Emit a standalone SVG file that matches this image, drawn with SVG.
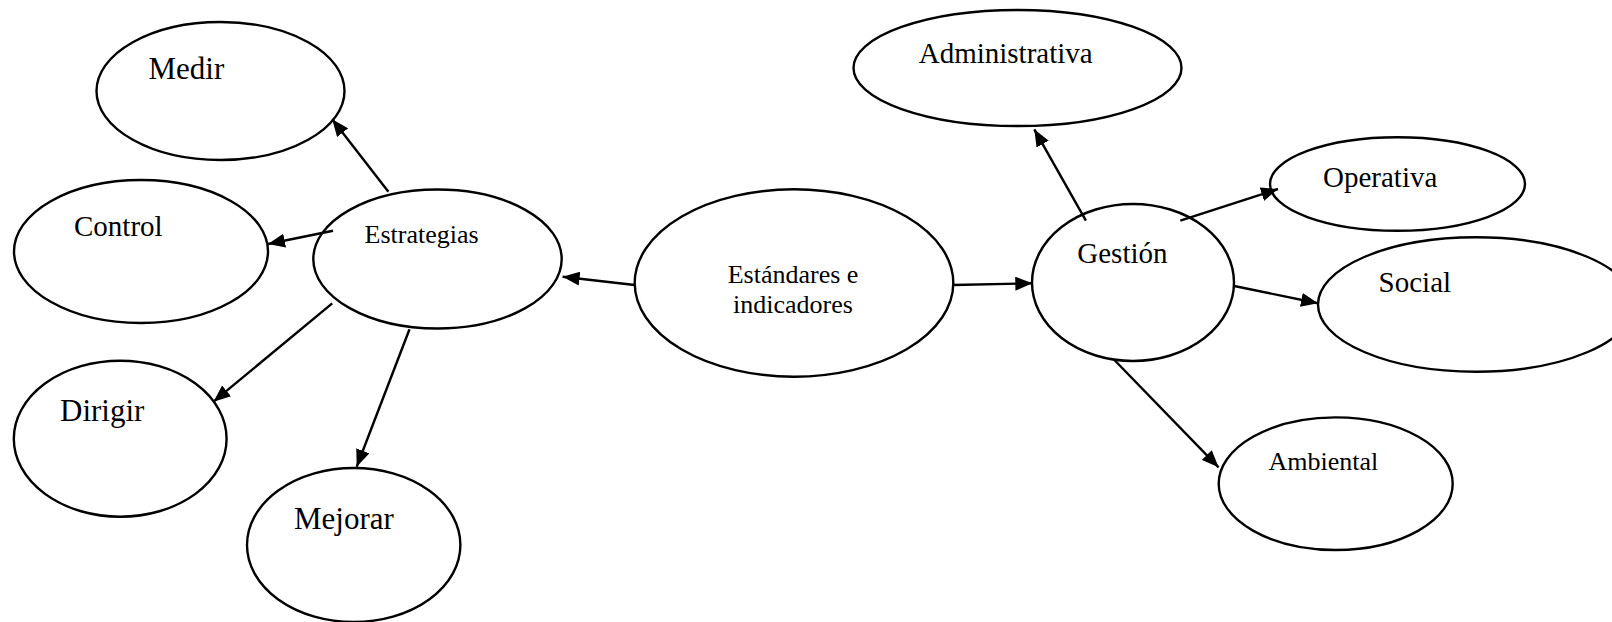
<svg xmlns="http://www.w3.org/2000/svg" width="1612" height="622" viewBox="0 0 1612 622">
  <style>
    .node ellipse { fill: #ffffff; stroke: #000000; stroke-width: 2.4; }
    .node text { font-family: "Liberation Serif", "Times New Roman", serif; fill: #000000; }
    .edge line { stroke: #000000; stroke-width: 2.4; marker-end: url(#arrow); }
  </style>
  <defs>
    <marker id="arrow" markerUnits="userSpaceOnUse" markerWidth="18" markerHeight="14" refX="17" refY="7" orient="auto">
      <path d="M0,0 L17,7 L0,14 Z" fill="#000000"/>
    </marker>
  </defs>
  <rect width="1612" height="622" fill="#ffffff"/>

  <!-- left branch -->
  <g id="medir" class="node">
    <ellipse cx="220.5" cy="91" rx="124" ry="69"/>
    <text x="148.5" y="79" font-size="31">Medir</text>
  </g>
  <g id="control" class="node">
    <ellipse cx="141" cy="251.5" rx="127" ry="71.5"/>
    <text x="74" y="235.5" font-size="29">Control</text>
  </g>
  <g id="estrategias" class="node">
    <ellipse cx="437.5" cy="259" rx="124.2" ry="69.5"/>
    <text x="364.5" y="242.5" font-size="26">Estrategias</text>
  </g>
  <g id="dirigir" class="node">
    <ellipse cx="120.2" cy="438.7" rx="106.4" ry="78"/>
    <text x="60" y="420.5" font-size="31">Dirigir</text>
  </g>
  <g id="mejorar" class="node">
    <ellipse cx="353.7" cy="545" rx="106.7" ry="77"/>
    <text x="294" y="528.5" font-size="31">Mejorar</text>
  </g>

  <!-- centre -->
  <g id="estandares" class="node">
    <ellipse cx="794" cy="283" rx="159.3" ry="93.7"/>
    <text font-size="26">
      <tspan x="727.7" y="283.3">Estándares e</tspan>
      <tspan x="733" y="313.3">indicadores</tspan>
    </text>
  </g>

  <!-- right branch -->
  <g id="gestion" class="node">
    <ellipse cx="1133" cy="282.5" rx="101" ry="78.5"/>
    <text x="1077.3" y="262.7" font-size="29">Gestión</text>
  </g>
  <g id="administrativa" class="node">
    <ellipse cx="1017.5" cy="68" rx="164" ry="58"/>
    <text x="918.7" y="62.7" font-size="29">Administrativa</text>
  </g>
  <g id="operativa" class="node">
    <ellipse cx="1397.5" cy="184" rx="127.5" ry="46.7"/>
    <text x="1323" y="186.7" font-size="29">Operativa</text>
  </g>
  <g id="social" class="node">
    <ellipse cx="1476" cy="304.5" rx="158" ry="67.2"/>
    <text x="1378.6" y="291.7" font-size="29">Social</text>
  </g>
  <g id="ambiental" class="node">
    <ellipse cx="1335.7" cy="483.7" rx="117" ry="66.3"/>
    <text x="1268.5" y="470" font-size="26">Ambiental</text>
  </g>

  <!-- connectors -->
  <g id="connectors" class="edge">
    <line x1="634.7" y1="285" x2="562.6" y2="276.7"/>
    <line x1="953.3" y1="285" x2="1032.3" y2="283.3"/>
    <line x1="388.4" y1="191.7" x2="332.2" y2="119.3"/>
    <line x1="333" y1="230.7" x2="268" y2="244"/>
    <line x1="332.2" y1="303.3" x2="213.5" y2="401.7"/>
    <line x1="409.5" y1="329.3" x2="356.7" y2="466.7"/>
    <line x1="1085.9" y1="220.7" x2="1034.3" y2="129.3"/>
    <line x1="1180.3" y1="220.7" x2="1278" y2="189"/>
    <line x1="1234.2" y1="286" x2="1318" y2="303.3"/>
    <line x1="1114.4" y1="360" x2="1218.6" y2="467.3"/>
  </g>
</svg>
